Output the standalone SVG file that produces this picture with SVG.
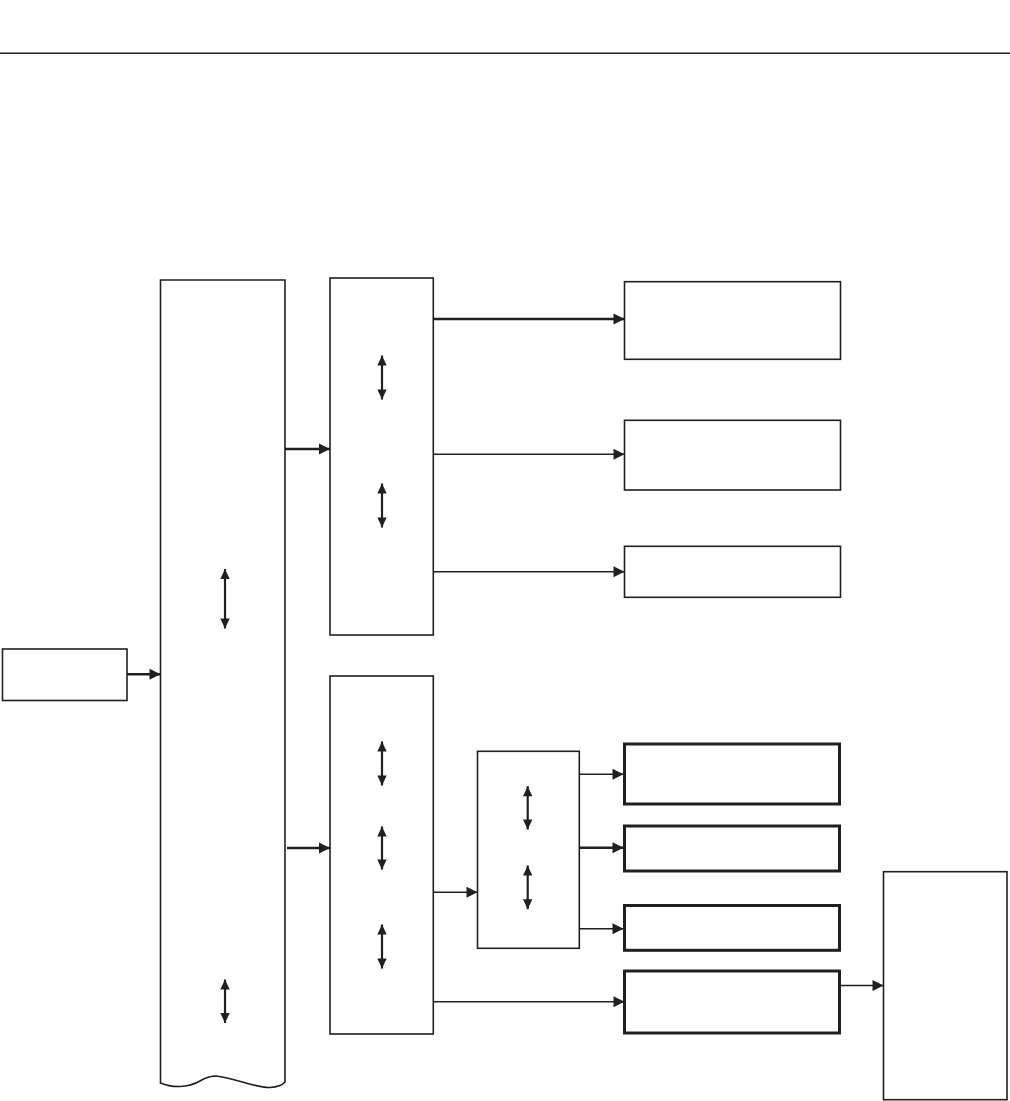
<svg xmlns="http://www.w3.org/2000/svg" width="1010" height="1101" viewBox="0 0 1010 1101">
<style>
.box{fill:#fff;stroke:#231f20;stroke-width:1.6}
.thick{fill:#fff;stroke:#231f20;stroke-width:3}
.ln{stroke:#231f20;stroke-width:1.4;fill:none}
.lnb{stroke:#231f20;stroke-width:2.4;fill:none}
.arr{marker-end:url(#ah)}
.dbl{stroke:#231f20;stroke-width:2.2;fill:none;marker-start:url(#dh);marker-end:url(#dh)}
</style>
<defs>
<marker id="ah" markerUnits="userSpaceOnUse" markerWidth="14" markerHeight="14" viewBox="0 0 14 14" refX="12" refY="7" orient="auto">
<path d="M1,1.5 L12,7 L1,12.5 Z" fill="#231f20"/>
</marker>
<marker id="dh" markerUnits="userSpaceOnUse" markerWidth="14" markerHeight="14" viewBox="0 0 14 14" refX="11" refY="7" orient="auto-start-reverse">
<path d="M1,2.3 L11,7 L1,11.7 Z" fill="#231f20"/>
</marker>
</defs>
<rect width="1010" height="1101" fill="#fff"/>
<line x1="0" y1="53.3" x2="1010" y2="53.3" stroke="#231f20" stroke-width="1.5"/>

<g id="nodeA"><rect class="box" x="2.5" y="649" width="124.5" height="51.5"/></g>
<g id="nodeB">
<path class="box" d="M160.5,280 L160.5,1083 C172,1088 188,1088 200,1081 C205,1078 210,1076 216,1076 C235,1078 255,1088 270,1087.5 C278,1087 283,1084.5 285,1082 L285,280 Z"/>
<line class="dbl" x1="225" y1="569" x2="225" y2="628.5"/>
<line class="dbl" x1="225" y1="979.5" x2="225" y2="1023"/>
</g>
<g id="nodeD">
<rect class="box" x="330" y="278" width="103.3" height="357"/>
<line class="dbl" x1="382" y1="355.5" x2="382" y2="399.5"/>
<line class="dbl" x1="382" y1="483.5" x2="382" y2="527.5"/>
</g>
<g id="nodeF">
<rect class="box" x="330" y="676" width="103.3" height="358"/>
<line class="dbl" x1="382" y1="741.5" x2="382" y2="785.5"/>
<line class="dbl" x1="382" y1="826.5" x2="382" y2="869.5"/>
<line class="dbl" x1="382" y1="924.5" x2="382" y2="968.5"/>
</g>
<g id="nodeC">
<rect class="box" x="477.5" y="751.3" width="101.8" height="197"/>
<line class="dbl" x1="527.7" y1="786.2" x2="527.7" y2="829.5"/>
<line class="dbl" x1="527.7" y1="865.5" x2="527.7" y2="909.2"/>
</g>
<g id="nodeE1"><rect class="box" x="624.5" y="281.7" width="216" height="77.6"/></g>
<g id="nodeE2"><rect class="box" x="624.5" y="420.3" width="216" height="69.7"/></g>
<g id="nodeE3"><rect class="box" x="624.5" y="546.3" width="216" height="51"/></g>
<g id="nodeG1"><rect class="thick" x="624.5" y="744" width="215" height="60"/></g>
<g id="nodeG2"><rect class="thick" x="624.5" y="826" width="215" height="45"/></g>
<g id="nodeG3"><rect class="thick" x="624.5" y="905.5" width="215" height="44.8"/></g>
<g id="nodeG4"><rect class="thick" x="624.5" y="971" width="215" height="62"/></g>
<g id="nodeH"><rect class="box" x="883.5" y="871.7" width="123.5" height="228"/></g>

<g id="connectors">
<line class="lnb arr" x1="127" y1="674.3" x2="160.5" y2="674.3"/>
<line class="lnb arr" x1="285" y1="449" x2="330" y2="449"/>
<line class="lnb arr" x1="287" y1="848" x2="330" y2="848"/>
<line class="lnb arr" x1="433.3" y1="319" x2="624.5" y2="319"/>
<line class="ln arr" x1="433.3" y1="454.3" x2="624.5" y2="454.3"/>
<line class="ln arr" x1="433.3" y1="571.7" x2="624.5" y2="571.7"/>
<line class="ln arr" x1="433.3" y1="892.3" x2="477.5" y2="892.3"/>
<line class="ln arr" x1="433.3" y1="1001.7" x2="624.5" y2="1001.7"/>
<line class="ln arr" x1="579.3" y1="774.3" x2="623.5" y2="774.3"/>
<line class="lnb arr" x1="579.3" y1="847.7" x2="623.5" y2="847.7"/>
<line class="ln arr" x1="579.3" y1="928.7" x2="623.5" y2="928.7"/>
<line class="ln arr" x1="840" y1="985.5" x2="883.5" y2="985.5"/>
</g>
</svg>
